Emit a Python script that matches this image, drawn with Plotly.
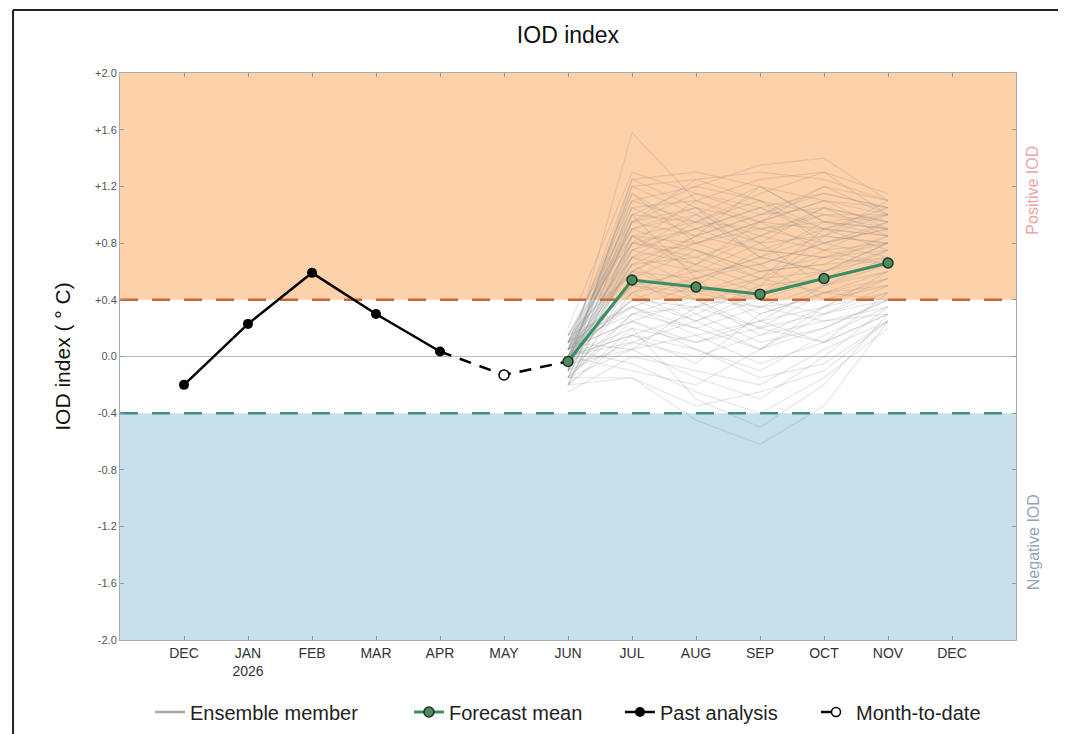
import plotly.graph_objects as go

# ---------------- data ----------------
month_labels = ["DEC", "JAN<br>2026", "FEB", "MAR", "APR", "MAY", "JUN",
                "JUL", "AUG", "SEP", "OCT", "NOV", "DEC"]
month_index = list(range(len(month_labels)))

past_x = [0, 1, 2, 3, 4]
past_values = [-0.20, 0.23, 0.59, 0.30, 0.035]

mtd_x = [4, 5, 6]
mtd_values = [0.035, -0.13, -0.035]

forecast_x = [6, 7, 8, 9, 10, 11]
forecast_mean = [-0.035, 0.54, 0.49, 0.44, 0.55, 0.66]

# ensemble members, JUN..NOV
ensemble_members = [
    [-0.05, 1.58, 1.10, 0.95, 0.90, 0.85],
    [0.05, 1.25, 1.30, 1.20, 1.10, 1.05],
    [-0.10, 1.10, 1.20, 1.35, 1.40, 1.10],
    [0.00, 1.00, 0.95, 1.10, 1.00, 0.95],
    [0.10, 0.95, 1.15, 1.00, 1.20, 1.00],
    [-0.15, 0.85, 0.80, 0.90, 0.95, 0.90],
    [0.15, 0.90, 1.05, 0.80, 0.85, 1.10],
    [-0.05, 0.80, 0.70, 0.85, 0.75, 0.80],
    [0.05, 0.75, 0.90, 1.05, 0.90, 0.85],
    [-0.20, 0.70, 0.60, 0.65, 0.80, 0.95],
    [0.00, 0.65, 0.85, 0.75, 0.70, 0.75],
    [0.10, 0.60, 0.55, 0.70, 0.95, 0.90],
    [-0.10, 0.55, 0.75, 0.60, 0.65, 0.70],
    [0.05, 0.50, 0.45, 0.55, 0.60, 0.80],
    [-0.05, 0.45, 0.65, 0.50, 0.55, 0.65],
    [0.00, 0.40, 0.35, 0.45, 0.70, 0.85],
    [0.15, 0.35, 0.50, 0.30, 0.45, 0.60],
    [-0.15, 0.30, 0.20, 0.35, 0.40, 0.55],
    [0.05, 0.25, 0.40, 0.20, 0.30, 0.50],
    [-0.20, 0.20, 0.10, 0.25, 0.35, 0.45],
    [0.00, 0.15, 0.30, 0.10, 0.20, 0.40],
    [-0.10, 0.10, 0.00, 0.15, 0.25, 0.35],
    [0.10, 0.05, 0.15, -0.05, 0.10, 0.30],
    [-0.25, 0.00, -0.10, -0.20, 0.05, 0.25],
    [0.05, -0.05, -0.25, -0.40, -0.15, 0.20],
    [-0.15, -0.15, -0.45, -0.62, -0.35, 0.25],
    [0.00, 0.20, -0.30, -0.50, -0.20, 0.30],
    [-0.05, 1.20, 1.00, 0.85, 1.05, 0.95],
    [0.05, 1.05, 0.85, 1.20, 0.95, 1.00],
    [-0.10, 0.95, 1.25, 1.10, 0.80, 0.70],
    [0.10, 0.85, 0.65, 0.95, 1.10, 0.90],
    [-0.20, 0.75, 1.00, 0.70, 0.60, 0.80],
    [0.00, 0.70, 0.50, 0.40, 0.55, 0.75],
    [0.15, 0.60, 0.80, 0.95, 0.75, 0.65],
    [-0.05, 0.55, 0.30, 0.50, 0.85, 1.00],
    [0.05, 0.50, 0.60, 0.80, 0.50, 0.60],
    [-0.15, 0.45, 0.25, 0.05, 0.30, 0.45],
    [0.00, 0.40, 0.55, 0.65, 0.40, 0.50],
    [0.10, 0.35, 0.15, 0.25, 0.50, 0.70],
    [-0.10, 0.30, 0.45, 0.60, 0.65, 0.85],
    [0.05, 0.25, 0.05, -0.10, 0.15, 0.35],
    [-0.20, 0.15, -0.05, 0.30, 0.45, 0.55],
    [0.00, 0.10, 0.25, 0.45, 0.60, 0.75],
    [-0.05, 1.15, 0.90, 0.75, 0.70, 0.65],
    [0.05, 0.90, 0.75, 0.55, 0.45, 0.40],
    [-0.10, 0.65, 0.40, 0.35, 0.25, 0.30],
    [0.10, 0.80, 1.10, 1.25, 1.30, 1.15],
    [-0.05, 1.00, 0.55, 0.25, 0.10, 0.45],
    [0.00, -0.10, -0.20, 0.05, 0.35, 0.60],
    [-0.15, 0.05, 0.35, 0.55, 0.90, 1.05],
    [0.20, 1.30, 1.15, 1.05, 1.15, 1.05],
    [-0.05, 1.20, 1.25, 1.30, 1.25, 1.10],
    [0.10, 1.10, 0.95, 1.15, 1.30, 1.00],
    [0.00, 1.05, 1.10, 0.90, 1.00, 0.90],
    [-0.10, 0.95, 0.85, 1.00, 1.15, 1.05],
    [0.05, 0.90, 1.00, 1.20, 0.95, 0.85],
    [0.15, 0.85, 0.95, 0.80, 1.05, 0.95],
    [-0.15, 0.80, 0.90, 1.05, 0.85, 0.80],
    [0.00, 0.75, 0.65, 0.85, 1.00, 1.00],
    [0.10, 0.70, 0.95, 0.90, 0.80, 0.90],
    [-0.05, 0.65, 0.70, 0.55, 0.75, 0.95],
    [0.05, 0.60, 0.85, 1.00, 1.05, 0.85],
    [-0.20, 0.55, 0.50, 0.75, 0.90, 0.75],
    [0.00, 0.95, 1.05, 0.70, 0.60, 0.70],
    [0.10, 1.15, 0.80, 0.65, 0.80, 0.90],
    [-0.10, 0.85, 0.60, 0.45, 0.55, 0.65],
    [0.05, 0.35, 0.20, 0.05, 0.20, 0.40],
    [-0.15, 0.25, 0.10, 0.20, 0.10, 0.30],
    [0.00, 0.15, 0.05, -0.15, -0.05, 0.25],
    [0.10, 0.30, 0.35, 0.20, 0.45, 0.50],
    [-0.05, 0.05, -0.15, -0.30, 0.00, 0.35],
    [0.05, 0.40, 0.25, 0.40, 0.30, 0.40],
    [-0.20, -0.15, -0.35, -0.25, -0.10, 0.25],
    [0.00, 0.50, 0.40, 0.15, 0.35, 0.55],
    [0.15, 1.00, 1.20, 1.10, 0.90, 1.00],
    [-0.10, 1.25, 1.05, 0.95, 1.20, 1.10],
    [0.05, 0.80, 0.75, 0.60, 0.70, 0.80],
    [-0.05, 0.70, 0.80, 0.95, 1.10, 1.00],
    [0.00, 0.60, 0.45, 0.35, 0.50, 0.65],
    [0.10, 0.45, 0.55, 0.70, 0.85, 0.80],
]

y_ticks = [2.0, 1.6, 1.2, 0.8, 0.4, 0.0, -0.4, -0.8, -1.2, -1.6, -2.0]
y_ticktext = ["+2.0", "+1.6", "+1.2", "+0.8", "+0.4", "0.0",
              "-0.4", "-0.8", "-1.2", "-1.6", "-2.0"]
threshold = 0.4

# ---------------- figure ----------------
FONT = "Liberation Sans, Arial, sans-serif"
fig = go.Figure()

# legend-only entry for ensemble
fig.add_trace(go.Scatter(x=[None], y=[None], mode="lines", name="Ensemble member",
                         legend="legend",
                         line=dict(color="#a8a8a8", width=2.5)))
for m in ensemble_members:
    fig.add_trace(go.Scatter(x=forecast_x, y=m, mode="lines", showlegend=False,
                             hoverinfo="skip",
                             line=dict(color="rgba(140,140,140,0.22)", width=1.2)))

# threshold dashed lines
fig.add_trace(go.Scatter(x=[-1, 13], y=[threshold, threshold], mode="lines",
                         showlegend=False, hoverinfo="skip",
                         line=dict(color="#c9653a", width=2.5, dash="18px,14px")))
fig.add_trace(go.Scatter(x=[-1, 13], y=[-threshold, -threshold], mode="lines",
                         showlegend=False, hoverinfo="skip",
                         line=dict(color="#3f8c8e", width=2.5, dash="18px,14px")))

# month-to-date dashed connection
fig.add_trace(go.Scatter(x=mtd_x, y=mtd_values, mode="lines", showlegend=False,
                         hoverinfo="skip",
                         line=dict(color="black", width=2.5, dash="12px,9px")))

fig.add_trace(go.Scatter(x=forecast_x, y=forecast_mean, mode="lines+markers",
                         name="Forecast mean", legend="legend2",
                         line=dict(color="#3a8f62", width=3),
                         marker=dict(size=10, color="#4e8a5e",
                                     line=dict(color="#1e3326", width=1.5))))

fig.add_trace(go.Scatter(x=past_x, y=past_values, mode="lines+markers",
                         name="Past analysis", legend="legend3",
                         line=dict(color="black", width=2.5),
                         marker=dict(size=10, color="black")))

fig.add_trace(go.Scatter(x=[mtd_x[1]], y=[mtd_values[1]], mode="markers",
                         showlegend=False, hoverinfo="skip",
                         marker=dict(size=10, color="white",
                                     line=dict(color="black", width=1.5))))
fig.add_trace(go.Scatter(x=[None], y=[None], mode="lines+markers",
                         name="Month-to-date", legend="legend4",
                         line=dict(color="black", width=2.5, dash="11px,40px"),
                         marker=dict(size=9, color="white",
                                     line=dict(color="black", width=1.5))))

shapes = [
    dict(type="rect", xref="paper", x0=0, x1=1, yref="y", y0=threshold, y1=2.0,
         fillcolor="#fdd1aa", line=dict(width=0), layer="below"),
    dict(type="rect", xref="paper", x0=0, x1=1, yref="y", y0=-2.0, y1=-threshold,
         fillcolor="#c6e1e9", line=dict(width=0), layer="below"),
    # outer page frame
    dict(type="line", xref="paper", yref="paper", x0=-0.1194, x1=-0.1194,
         y0=1.111, y1=-0.2, line=dict(color="#222", width=2)),
    dict(type="line", xref="paper", yref="paper", x0=-0.1194, x1=1.1,
         y0=1.111, y1=1.111, line=dict(color="#222", width=2)),
]

annotations = [
    dict(text="Positive IOD", xref="paper", yref="y", x=1.019, y=1.17,
         xanchor="center", yanchor="middle",
         textangle=-90, showarrow=False,
         font=dict(family=FONT, size=16, color="#eba3a3")),
    dict(text="Negative IOD", xref="paper", yref="y", x=1.019, y=-1.31,
         xanchor="center", yanchor="middle",
         textangle=-90, showarrow=False,
         font=dict(family=FONT, size=16, color="#95a3b5")),
]

legend_common = dict(orientation="h", y=-0.127, yanchor="middle", xanchor="left",
                     font=dict(family=FONT, size=20, color="#222"),
                     bgcolor="rgba(0,0,0,0)")

fig.update_layout(
    width=1058, height=745,
    margin=dict(l=112, r=50, t=65, b=113),
    paper_bgcolor="white", plot_bgcolor="white",
    title=dict(text="IOD index", x=0.5, xref="paper", y=1 - 27 / 745,
               yanchor="middle",
               font=dict(family=FONT, size=23, color="#111")),
    shapes=shapes, annotations=annotations,
    legend=dict(x=0.0335, **legend_common),
    legend2=dict(x=0.3225, **legend_common),
    legend3=dict(x=0.558, **legend_common),
    legend4=dict(x=0.7768, **legend_common),
    showlegend=True,
)

fig.update_xaxes(range=[-1, 13], tickmode="array", tickvals=month_index,
                 ticktext=month_labels, ticks="inside", ticklen=4,
                 tickcolor="#999", showline=True, linecolor="#aaa", mirror="ticks",
                 showgrid=False, zeroline=False,
                 tickfont=dict(family=FONT, size=14, color="#333"))
fig.update_yaxes(range=[-2, 2], tickmode="array", tickvals=y_ticks,
                 ticktext=y_ticktext, ticks="inside", ticklen=4,
                 tickcolor="#999", showline=True, linecolor="#aaa", mirror="ticks",
                 showgrid=False, zeroline=True, zerolinecolor="#bbb",
                 zerolinewidth=1,
                 tickfont=dict(family=FONT, size=11, color="#555"),
                 title=dict(text="IOD index ( ° C)", standoff=18,
                            font=dict(family=FONT, size=21, color="#111")))

fig.write_html("out.html")
